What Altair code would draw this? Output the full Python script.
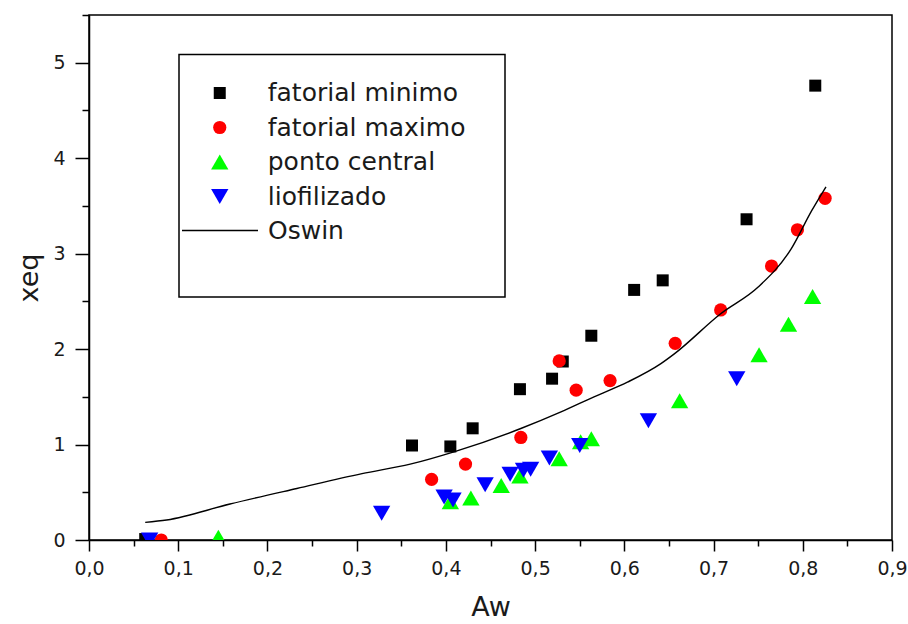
import altair as alt
import pandas as pd

# ---------------- data ----------------
series_names = ["fatorial minimo", "fatorial maximo", "ponto central", "liofilizado"]
line_name = "Oswin"

minimo_aw = [0.063, 0.362, 0.405, 0.430, 0.483, 0.519, 0.531, 0.563, 0.611, 0.643, 0.737, 0.814]
minimo_xeq = [0.01, 0.99, 0.98, 1.17, 1.58, 1.69, 1.87, 2.14, 2.62, 2.72, 3.36, 4.76]

maximo_aw = [0.081, 0.384, 0.422, 0.484, 0.527, 0.546, 0.584, 0.657, 0.708, 0.765, 0.794, 0.825]
maximo_xeq = [0.0, 0.635, 0.795, 1.074, 1.876, 1.57, 1.67, 2.06, 2.41, 2.87, 3.25, 3.58]

central_aw = [0.145, 0.405, 0.428, 0.462, 0.483, 0.527, 0.551, 0.563, 0.662, 0.751, 0.784, 0.811]
central_xeq = [0.03, 0.40, 0.44, 0.57, 0.67, 0.85, 1.03, 1.06, 1.46, 1.94, 2.26, 2.55]

liof_aw = [0.068, 0.328, 0.398, 0.408, 0.444, 0.472, 0.487, 0.495, 0.516, 0.550, 0.627, 0.726]
liof_xeq = [0.0, 0.28, 0.45, 0.42, 0.58, 0.69, 0.73, 0.74, 0.86, 0.99, 1.25, 1.69]

oswin_aw = [0.063, 0.087, 0.158, 0.233, 0.306, 0.360, 0.409, 0.484, 0.529, 0.566,
            0.604, 0.641, 0.656, 0.708, 0.750, 0.787, 0.810, 0.826]
oswin_xeq = [0.185, 0.21, 0.377, 0.54, 0.695, 0.795, 0.924, 1.168, 1.342, 1.50,
             1.656, 1.848, 1.95, 2.37, 2.65, 3.05, 3.45, 3.70]

x_tick_values = [0.0, 0.05, 0.1, 0.15, 0.2, 0.25, 0.3, 0.35, 0.4, 0.45,
                 0.5, 0.55, 0.6, 0.65, 0.7, 0.75, 0.8, 0.85, 0.9]
y_tick_values = [0.0, 0.5, 1.0, 1.5, 2.0, 2.5, 3.0, 3.5, 4.0, 4.5, 5.0, 5.5]

# ---------------- tables ----------------
rows = []
for name, xs, ys in zip(series_names,
                        [minimo_aw, maximo_aw, central_aw, liof_aw],
                        [minimo_xeq, maximo_xeq, central_xeq, liof_xeq]):
    for a, b in zip(xs, ys):
        rows.append({"serie": name, "Aw": a, "xeq": b})
points = pd.DataFrame(rows)
oswin = pd.DataFrame({"Aw": oswin_aw, "xeq": oswin_xeq, "modelo": [line_name] * len(oswin_aw)})
frame_df = pd.DataFrame({"k": [0]})

FONT = "DejaVu Sans"
TXT = "#1a1a1a"

colors = ["#000000", "#ff0000", "#00ff00", "#0000ff"]
shapes = ["square", "circle", "triangle-up", "triangle-down"]
marker_sizes = [144, 175, 300, 300]

x_major = "abs(datum.value*10 - round(datum.value*10)) < 0.001"
y_major = "abs(datum.value - round(datum.value)) < 0.001"

x_axis = alt.Axis(
    values=x_tick_values,
    labelExpr=f"{x_major} ? replace(format(datum.value, '.1f'), '.', ',') : ''",
    labelOverlap=False, labelFlush=False,
    tickSize={"condition": {"test": x_major, "value": 11}, "value": 6},
    tickColor="black", tickWidth=1.5,
    domainColor="black", domainWidth=1.5,
    labelFont=FONT, labelFontSize=19, labelColor=TXT, labelPadding=8,
    title="Aw", titleFont=FONT, titleFontSize=27, titleFontWeight="normal",
    titleColor=TXT, titlePadding=16, grid=False,
)
y_axis = alt.Axis(
    values=y_tick_values,
    labelExpr=f"{y_major} ? format(datum.value, 'd') : ''",
    labelOverlap=False, labelFlush=False,
    tickSize={"condition": {"test": y_major, "value": 14}, "value": 7},
    tickColor="black", tickWidth=1.5,
    domainColor="black", domainWidth=1.5,
    labelFont=FONT, labelFontSize=19, labelColor=TXT, labelPadding=10,
    title="xeq", titleFont=FONT, titleFontSize=27, titleFontWeight="normal",
    titleColor=TXT, titlePadding=9, grid=False,
)

leg_points = alt.Legend(
    title=None, orient="none", legendX=111, legendY=65.5, padding=0,
    labelFont=FONT, labelFontSize=25, labelColor=TXT, labelLimit=400,
    labelOffset=35.5, symbolOffset=7.25, symbolStrokeWidth=0,
    rowPadding=8.5,
)
leg_line = alt.Legend(
    title=None, orient="none", legendX=92, legendY=176.5, padding=0,
    labelFont=FONT, labelFontSize=25, labelColor=TXT, labelLimit=400,
    symbolType="stroke", symbolSize=5776, symbolStrokeWidth=1.5,
    labelOffset=9, symbolOffset=0,
)

x_scale = alt.Scale(domain=[0, 0.9], nice=False, zero=False)
y_scale = alt.Scale(domain=[0, 5.5], nice=False, zero=False)

frame = alt.Chart(frame_df).mark_rect(
    fill="white", fillOpacity=0, stroke="black", strokeWidth=1.5
).encode(
    x=alt.value(90), x2=alt.value(416), y=alt.value(39.5), y2=alt.value(282)
)

pts = alt.Chart(points).mark_point(filled=True, opacity=1, clip=True).encode(
    x=alt.X("Aw:Q", scale=x_scale, axis=x_axis),
    y=alt.Y("xeq:Q", scale=y_scale, axis=y_axis),
    color=alt.Color("serie:N", scale=alt.Scale(domain=series_names, range=colors), legend=leg_points),
    shape=alt.Shape("serie:N", scale=alt.Scale(domain=series_names, range=shapes), legend=leg_points),
    size=alt.Size("serie:N", scale=alt.Scale(type="ordinal", domain=series_names, range=marker_sizes),
                  legend=leg_points),
)

line = alt.Chart(oswin).mark_line(strokeWidth=1.4, interpolate="monotone", clip=True).encode(
    x=alt.X("Aw:Q"),
    y=alt.Y("xeq:Q"),
    stroke=alt.Stroke("modelo:N", scale=alt.Scale(domain=[line_name], range=["#000000"]),
                      legend=leg_line),
)

chart = alt.layer(frame, pts, line).properties(
    width=803, height=525,
    padding={"left": 89, "top": 15, "right": 16, "bottom": 84},
    autosize=alt.AutoSizeParams(type="none"),
    background="white",
).configure_view(stroke="black", strokeWidth=1.5)

chart.save("out.html", embed_options={"renderer": "svg", "actions": False})
